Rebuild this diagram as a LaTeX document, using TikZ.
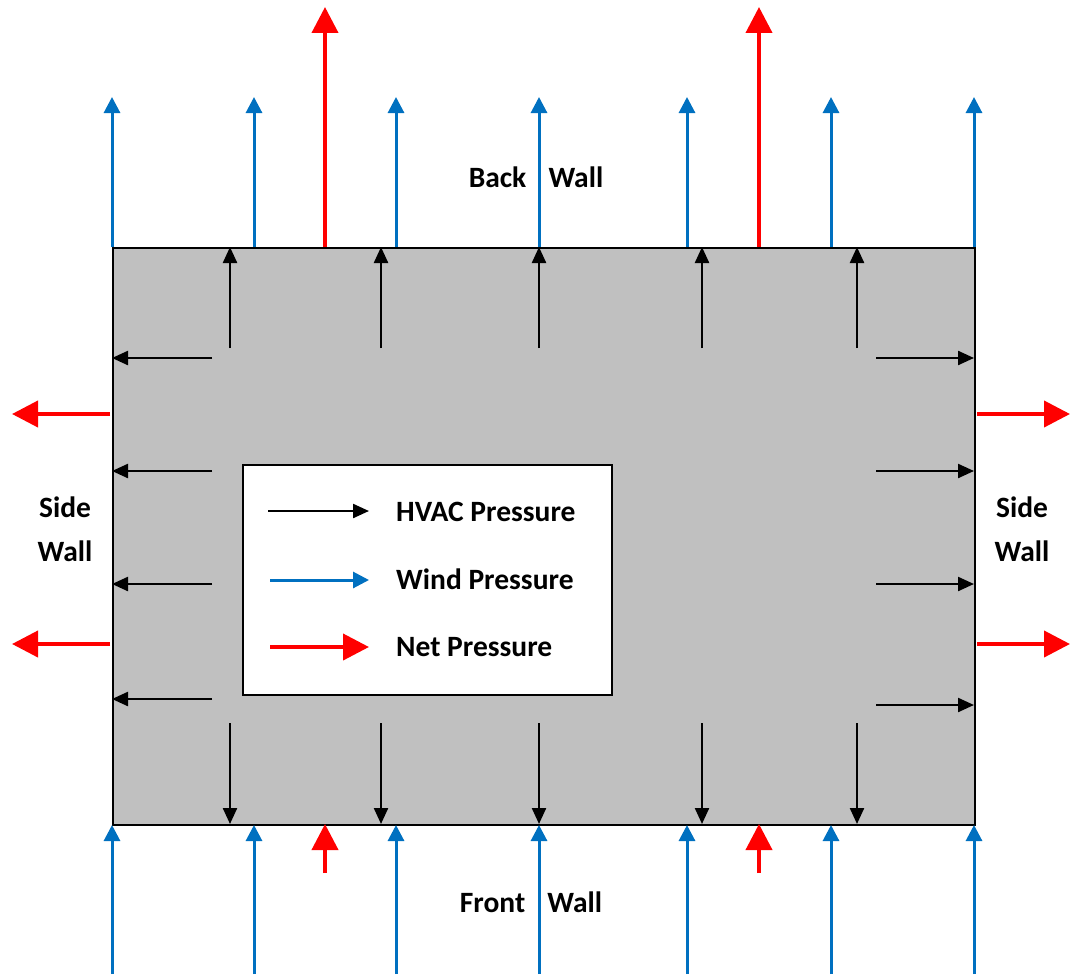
\documentclass[tikz,border=0pt]{standalone}
\usepackage{fontspec}
\setmainfont{Carlito}
\usetikzlibrary{arrows.meta}
\definecolor{windblue}{RGB}{0,112,192}
\definecolor{netred}{RGB}{255,0,0}
\definecolor{wallgray}{RGB}{192,192,192}
\tikzset{
  hvac/.style={black, line width=2.3pt, -{Triangle[length=16pt,width=14pt]}},
  wind/.style={windblue, line width=3pt, -{Triangle[length=16pt,width=16pt]}},
  net/.style={netred, line width=4pt, -{Triangle[length=26pt,width=26pt]}},
  lbl/.style={font=\fontsize{29.5}{36}\selectfont\bfseries, inner sep=0pt},
}
\begin{document}
\begin{tikzpicture}[x=1pt,y=-1pt]
\useasboundingbox (0,0) rectangle (1070,974);
% building
\node[draw=black, line width=2pt, fill=wallgray, minimum width=862pt, minimum height=577pt, inner sep=0pt, anchor=north west] (room) at (112,247) {};
% top wind
\foreach \x in {112,254,396,539,687,831,974}
  \draw[wind] (\x,247) -- (\x,97);
% top net
\foreach \x in {325,759}
  \draw[net] (\x,247) -- (\x,7);
% bottom wind
\foreach \x in {112,254,396,539,687,831,974}
  \draw[wind] (\x,974) -- (\x,825);
% bottom net
\foreach \x in {325,759}
  \draw[net] (\x,873) -- (\x,824);
% HVAC top and bottom
\foreach \x in {230,381,539,702,857}{
  \draw[hvac] (\x,348) -- (\x,247);
  \draw[hvac] (\x,723) -- (\x,824);
}
% HVAC left
\foreach \y in {358,471,584,699}
  \draw[hvac] (212,\y) -- (112,\y);
% HVAC right
\foreach \y in {358,471,584,705}
  \draw[hvac] (876,\y) -- (974,\y);
% side net
\foreach \y in {414,644}{
  \draw[net] (110,\y) -- (12,\y);
  \draw[net] (977,\y) -- (1070,\y);
}
% legend
\node[draw=black, line width=2pt, fill=white, minimum width=369pt, minimum height=230pt, inner sep=0pt, anchor=north west] (legend) at (242,464) {};
\draw[hvac] (268,511) -- (369,511);
\draw[wind] (270,580) -- (369,580);
\draw[net] (270,647) -- (369,647);
\node[lbl, anchor=west] (lh) at (396,512) {HVAC Pressure};
\node[lbl, anchor=west] (lw) at (396,579) {Wind Pressure};
\node[lbl, anchor=west] (ln) at (396,647) {Net Pressure};
% wall labels
\node[lbl] (back) at (536,177) {Back\hspace{0.75em}Wall};
\node[lbl] (front) at (531,902) {Front\hspace{0.75em}Wall};
\node[lbl, align=center] (lside) at (65,529) {Side\\[8pt]Wall};
\node[lbl, align=center] (rside) at (1022,529) {Side\\[8pt]Wall};
\end{tikzpicture}
\end{document}
